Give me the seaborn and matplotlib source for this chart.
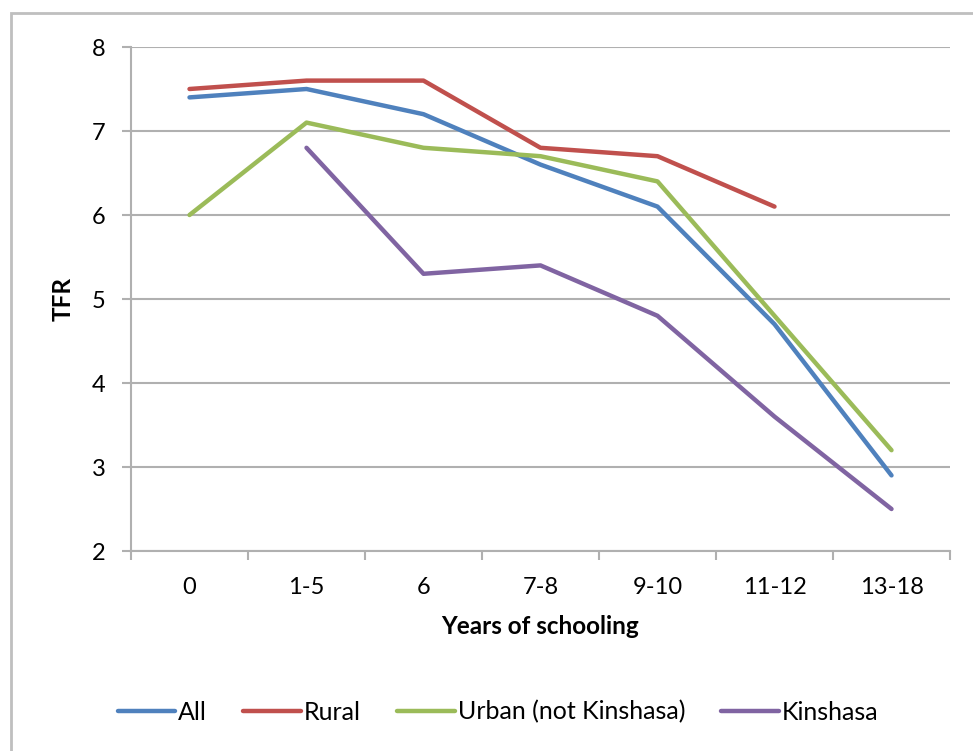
import matplotlib
matplotlib.use("Agg")
import matplotlib.pyplot as plt
import seaborn as sns
import pandas as pd
import numpy as np
from matplotlib.patches import Rectangle

categories = ["0", "1-5", "6", "7-8", "9-10", "11-12", "13-18"]
all_vals = [7.4, 7.5, 7.2, 6.6, 6.1, 4.7, 2.9]
rural_vals = [7.5, 7.6, 7.6, 6.8, 6.7, 6.1, np.nan]
urban_vals = [6.0, 7.1, 6.8, 6.7, 6.4, 4.8, 3.2]
kinshasa_vals = [np.nan, 6.8, 5.3, 5.4, 4.8, 3.6, 2.5]
series_names = ["All", "Rural", "Urban (not Kinshasa)", "Kinshasa"]
colors = ["#4F81BD", "#C0504D", "#9BBB59", "#8064A2"]

rows = []
for name, vals in zip(series_names, [all_vals, rural_vals, urban_vals, kinshasa_vals]):
    for c, v in zip(categories, vals):
        rows.append({"Years of schooling": c, "TFR": v, "series": name})
df = pd.DataFrame(rows)
df["pos"] = df["Years of schooling"].map({c: i for i, c in enumerate(categories)})

sns.set_theme(style="white")
plt.rcParams["font.family"] = ["Lato", "DejaVu Sans"]
plt.rcParams["text.color"] = "black"
plt.rcParams["axes.labelcolor"] = "black"
plt.rcParams["xtick.labelcolor"] = "black"
plt.rcParams["ytick.labelcolor"] = "black"

fig = plt.figure(figsize=(9.73, 7.51), dpi=100)
W, H = 973, 751
ax = fig.add_axes([131 / W, 1 - 551 / H, (950 - 131) / W, (551 - 47) / H])

sns.lineplot(data=df.dropna(), x="pos", y="TFR", hue="series", hue_order=series_names,
             palette=colors, linewidth=3.2, ax=ax, legend=True, sort=True,
             solid_capstyle="round")

grid_c = "#B0B0B0"
ax.set_xlim(-0.5, 6.5)
ax.set_ylim(2, 8)
ax.set_yticks(range(2, 9))
ax.yaxis.grid(True, color=grid_c, linewidth=1.5)
ax.set_axisbelow(True)
ax.set_xticks(np.arange(-0.5, 7, 1))
ax.set_xticklabels([])
ax.set_xticks(range(len(categories)), minor=True)
ax.set_xticklabels(categories, minor=True, fontsize=17)
ax.tick_params(axis="x", which="major", length=6.5, width=1.5, color=grid_c, direction="out", bottom=True)
ax.tick_params(axis="x", which="minor", length=0, pad=19, bottom=True, labelcolor="black")
ax.tick_params(axis="y", length=6.5, width=1.5, color=grid_c, direction="out", labelsize=17, pad=12,
               left=True, labelcolor="black")
for s in ["top", "right"]:
    ax.spines[s].set_visible(False)
for s in ["left", "bottom"]:
    ax.spines[s].set_color(grid_c)
    ax.spines[s].set_linewidth(1.5)

ax.set_xlabel("Years of schooling", fontsize=17.5, fontweight="bold", labelpad=12, color="black")
ax.set_ylabel("TFR", fontsize=17.5, fontweight="bold", labelpad=12, color="black")

handles, labels = ax.get_legend_handles_labels()
ax.legend_.remove()
leg = fig.legend(handles, labels, loc="center", bbox_to_anchor=(498 / W, 1 - 712 / H),
                 ncol=4, frameon=False, fontsize=18, handlelength=2.3,
                 handletextpad=0.12, columnspacing=1.45)
for t in leg.get_texts():
    t.set_color("black")
for h in leg.get_lines():
    h.set_linewidth(3.2)
    h.set_solid_capstyle("round")

fig.patches.append(Rectangle((11 / W, -0.1), 1.2, 1 - 13 / H + 0.1, transform=fig.transFigure,
                             fill=False, edgecolor="#BFBFBF", linewidth=2))

fig.savefig("out.png", dpi=100)
